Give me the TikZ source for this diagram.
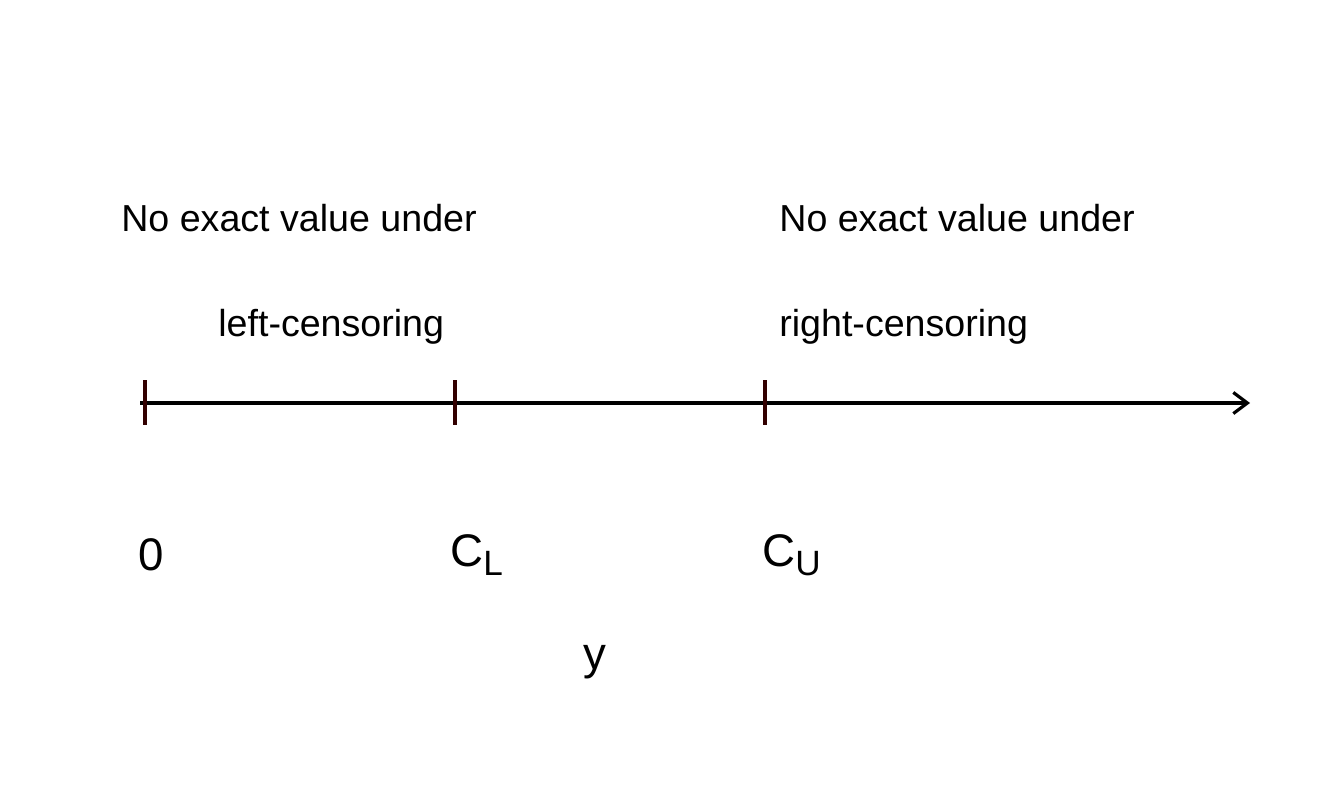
\documentclass[tikz,border=0pt]{standalone}
\usepackage{fontspec}
\setmainfont{Liberation Sans}
\usetikzlibrary{arrows.meta}
\tikzset{
  note/.style={anchor=west,inner sep=0pt,font=\fontsize{21.4}{25}\selectfont},
  mark label/.style={anchor=west,inner sep=0pt,font=\fontsize{26}{30}\selectfont},
  tickline/.style={line width=1.8pt,draw=black!80!red}
}
\newcommand{\subidx}[1]{\raisebox{-0.35ex}{\fontsize{20}{24}\selectfont #1}}
\begin{document}
\begin{tikzpicture}[x=0.02cm,y=-0.02cm]
  \useasboundingbox (0,0) rectangle (1344,806);
  % axis
  \coordinate (start) at (140,403);
  \coordinate (end) at (1250,403);
  \draw[line width=1.8pt,-{Straight Barb[length=8pt,width=12pt]}] (start) -- (end);
  \foreach \x/\n in {145/t0,455/tl,765/tu}
    \draw[tickline] (\x,380) coordinate (\n) -- (\x,425);
  % texts
  \node[note] (lefttop) at (121,218) {No exact value under};
  \node[note] (leftbot) at (218,327) {left-censoring};
  \node[note] (righttop) at (779,218) {No exact value under};
  \node[note] (rightbot) at (779,327) {right-censoring};
  \node[mark label] (zero) at (138,555) {0};
  \node[mark label] (cl) at (450,555) {C\subidx{L}};
  \node[mark label] (cu) at (762,555) {C\subidx{U}};
  \node[mark label,anchor=center] (yl) at (595,662) {y};
\end{tikzpicture}
\end{document}
